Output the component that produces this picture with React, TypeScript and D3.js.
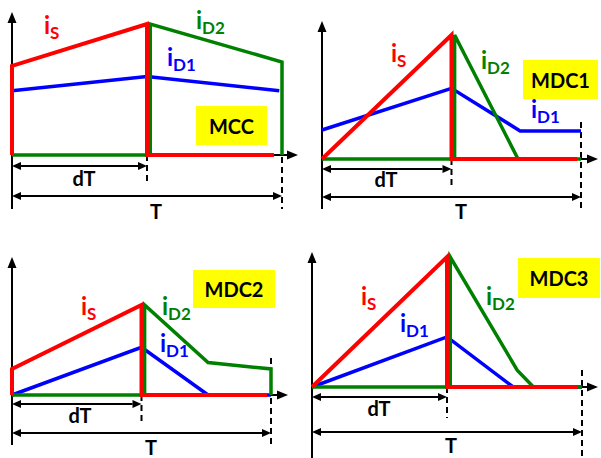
import * as d3 from 'd3'

type Pt = [number, number]

// waveforms: time as a fraction of T (dT = 0.5), current as a fraction of the panel peak
const mccIs: Pt[] = [[0, 0], [0, 0.68], [0.5, 1], [0.5, 0], [0.97, 0]]
const mccId1: Pt[] = [[0, 0.49], [0.5, 0.6], [0.99, 0.49]]
const mccId2: Pt[] = [[0, 0], [0.512, 0], [0.512, 1], [1, 0.71], [1, 0]]

const mdc1Is: Pt[] = [[0, 0], [0.5, 1], [0.5, 0], [0.985, 0]]
const mdc1Id1: Pt[] = [[0, 0.234], [0.5, 0.57], [0.765, 0.226], [1, 0.226]]
const mdc1Id2: Pt[] = [[0, 0], [0.512, 0], [0.512, 1], [0.757, 0], [1, 0]]

const mdc2Is: Pt[] = [[0, 0], [0, 0.29], [0.5, 1], [0.5, 0], [0.985, 0]]
const mdc2Id1: Pt[] = [[0, 0], [0.5, 0.53], [0.757, 0], [1, 0]]
const mdc2Id2: Pt[] = [[0, 0], [0.512, 0], [0.512, 1], [0.757, 0.36], [1, 0.29], [1, 0]]

const mdc3Is: Pt[] = [[0, 0], [0.5, 1], [0.5, 0], [0.985, 0]]
const mdc3Id1: Pt[] = [[0, 0], [0.5, 0.385], [0.745, 0], [1, 0]]
const mdc3Id2: Pt[] = [[0, 0], [0.512, 0], [0.512, 1], [0.76, 0.13], [0.82, 0], [1, 0]]

const modeNames = ['MCC', 'MDC1', 'MDC2', 'MDC3']
const dutyLabel = 'dT'
const periodLabel = 'T'
const duty = 0.5

const RED = '#ff0000'
const GREEN = '#008000'
const BLUE = '#0000ff'
const FONT = 'Lato, "Open Sans", sans-serif'

type Lbl = { x: number, y: number }
type Panel = {
  name: string,
  is: Pt[], id1: Pt[], id2: Pt[],
  x0: number, xT: number, base: number, peak: number,
  axisTop: number, axisBottom: number, arrowEnd: number,
  dTy: number, Ty: number, dashDEnd: number, dashTTop: number, dashTEnd: number,
  dTlabel: Lbl, Tlabel: Lbl,
  box: { x: number, y: number, w: number, h: number },
  lIs: Lbl, lId1: Lbl, lId2: Lbl,
}

const panels: Panel[] = [
  {
    name: modeNames[0], is: mccIs, id1: mccId1, id2: mccId2,
    x0: 12, xT: 282, base: 155, peak: 24, axisTop: 12, axisBottom: 209, arrowEnd: 298,
    dTy: 166, Ty: 196, dashDEnd: 184, dashTTop: 157, dashTEnd: 209,
    dTlabel: { x: 84, y: 186 }, Tlabel: { x: 156, y: 219 },
    box: { x: 196, y: 106, w: 71, h: 39 },
    lIs: { x: 44, y: 34 }, lId1: { x: 167, y: 66 }, lId2: { x: 196, y: 29 },
  },
  {
    name: modeNames[1], is: mdc1Is, id1: mdc1Id1, id2: mdc1Id2,
    x0: 322, xT: 581, base: 159, peak: 35, axisTop: 21, axisBottom: 209, arrowEnd: 598,
    dTy: 169, Ty: 197, dashDEnd: 186, dashTTop: 122, dashTEnd: 209,
    dTlabel: { x: 386, y: 187 }, Tlabel: { x: 461, y: 219 },
    box: { x: 523, y: 60, w: 75, h: 39 },
    lIs: { x: 391, y: 62 }, lId1: { x: 531, y: 118 }, lId2: { x: 481, y: 69 },
  },
  {
    name: modeNames[2], is: mdc2Is, id1: mdc2Id1, id2: mdc2Id2,
    x0: 12, xT: 271, base: 395, peak: 305, axisTop: 257, axisBottom: 445, arrowEnd: 288,
    dTy: 404, Ty: 433, dashDEnd: 421, dashTTop: 358, dashTEnd: 445,
    dTlabel: { x: 80, y: 423 }, Tlabel: { x: 151, y: 455 },
    box: { x: 193, y: 270, w: 82, h: 38 },
    lIs: { x: 81, y: 315 }, lId1: { x: 160, y: 352 }, lId2: { x: 162, y: 315 },
  },
  {
    name: modeNames[3], is: mdc3Is, id1: mdc3Id1, id2: mdc3Id2,
    x0: 312, xT: 582, base: 387, peak: 257, axisTop: 252, axisBottom: 458, arrowEnd: 598,
    dTy: 397, Ty: 432, dashDEnd: 418, dashTTop: 370, dashTEnd: 458,
    dTlabel: { x: 379, y: 416 }, Tlabel: { x: 451, y: 453 },
    box: { x: 518, y: 258, w: 82, h: 40 },
    lIs: { x: 361, y: 305 }, lId1: { x: 400, y: 332 }, lId2: { x: 486, y: 305 },
  },
]

function Label({ at, main, sub, color }: { at: Lbl, main: string, sub: string, color: string }) {
  return (
    <text x={at.x} y={at.y} fill={color} fontFamily={FONT} fontWeight="bold" fontSize={24}>
      {main}<tspan fontSize={17} dy={5}>{sub}</tspan>
    </text>
  )
}

// double headed dimension arrow
function DimArrow({ x1, x2, y }: { x1: number, x2: number, y: number }) {
  const L = 9, W = 4
  return (
    <g fill="#000">
      <line x1={x1 + L} x2={x2 - L} y1={y} y2={y} stroke="#000" strokeWidth={1.8} />
      <polygon points={`${x1},${y} ${x1 + L},${y - W} ${x1 + L},${y + W}`} />
      <polygon points={`${x2},${y} ${x2 - L},${y - W} ${x2 - L},${y + W}`} />
    </g>
  )
}

function PanelView({ p }: { p: Panel }) {
  const x = d3.scaleLinear([0, 1], [p.x0, p.xT])
  const y = d3.scaleLinear([0, 1], [p.base, p.peak])
  const line = d3.line<Pt>(d => x(d[0]), d => y(d[1]))
  const xd = x(duty)
  return (
    <g>
      {/* axes */}
      <line x1={p.x0} x2={p.x0} y1={p.axisBottom} y2={p.axisTop + 9} stroke="#000" strokeWidth={2} />
      <polygon points={`${p.x0},${p.axisTop} ${p.x0 - 4.5},${p.axisTop + 11} ${p.x0 + 4.5},${p.axisTop + 11}`} fill="#000" />
      <line x1={p.x0} x2={p.arrowEnd - 9} y1={p.base} y2={p.base} stroke="#000" strokeWidth={2} />
      <polygon points={`${p.arrowEnd},${p.base} ${p.arrowEnd - 11},${p.base - 4.5} ${p.arrowEnd - 11},${p.base + 4.5}`} fill="#000" />
      {/* dashed markers */}
      <line x1={xd} x2={xd} y1={p.base} y2={p.dashDEnd} stroke="#000" strokeWidth={2} strokeDasharray="6,4" />
      <line x1={p.xT} x2={p.xT} y1={p.dashTTop} y2={p.dashTEnd} stroke="#000" strokeWidth={2} strokeDasharray="6,4" />
      {/* waveforms */}
      <path d={line(p.id1) ?? ''} fill="none" stroke={BLUE} strokeWidth={3.5} />
      <path d={line(p.id2) ?? ''} fill="none" stroke={GREEN} strokeWidth={3.5} />
      <path d={line(p.is) ?? ''} fill="none" stroke={RED} strokeWidth={4} />
      {/* dimension arrows */}
      <DimArrow x1={p.x0} x2={xd} y={p.dTy} />
      <DimArrow x1={p.x0} x2={p.xT} y={p.Ty} />
      <text x={p.dTlabel.x} y={p.dTlabel.y} textAnchor="middle" fontFamily={FONT} fontWeight="bold" fontSize={20}>{dutyLabel}</text>
      <text x={p.Tlabel.x} y={p.Tlabel.y} textAnchor="middle" fontFamily={FONT} fontWeight="bold" fontSize={20}>{periodLabel}</text>
      {/* labels */}
      <Label at={p.lIs} main="i" sub="S" color={RED} />
      <Label at={p.lId1} main="i" sub="D1" color={BLUE} />
      <Label at={p.lId2} main="i" sub="D2" color={GREEN} />
      <rect x={p.box.x} y={p.box.y} width={p.box.w} height={p.box.h} fill="#ffff00" />
      <text x={p.box.x + p.box.w / 2} y={p.box.y + p.box.h / 2 + 8} textAnchor="middle" fontFamily={FONT} fontWeight="bold" fontSize={20} fill="#000">{p.name}</text>
    </g>
  )
}

export default function App() {
  return (
    <svg width={601} height={458} style={{ position: 'absolute', left: 0, top: 0, background: '#fff' }}>
      <rect width={601} height={458} fill="#fff" />
      {panels.map(p => <PanelView key={p.name} p={p} />)}
    </svg>
  )
}
